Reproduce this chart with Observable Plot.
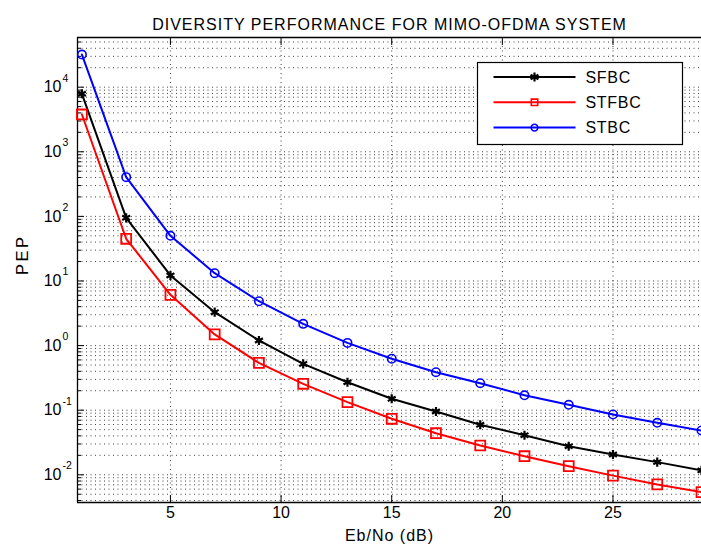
<!DOCTYPE html>
<html><head><meta charset="utf-8">
<script src="https://cdn.jsdelivr.net/npm/d3@7"></script>
<script src="https://cdn.jsdelivr.net/npm/@observablehq/plot@0.6"></script>
<style>
body{margin:0;background:#fff}
#chart{position:relative;width:701px;height:548px;overflow:hidden}
</style>
</head><body><div id="chart"></div>
<script>
const ebno = [1,3,5,7,9,11,13,15,17,19,21,23,25,27,29];
const sfbc = [7900, 95, 12.2, 3.29, 1.2, 0.52, 0.271, 0.150, 0.0955, 0.0594, 0.041, 0.0277, 0.0206, 0.0157, 0.0117];
const stfbc = [3780, 45, 6.1, 1.49, 0.54, 0.256, 0.133, 0.0736, 0.044, 0.0284, 0.0194, 0.0136, 0.0097, 0.0071, 0.0054];
const stbc = [32000, 405, 50, 13.2, 4.86, 2.17, 1.10, 0.625, 0.387, 0.262, 0.17, 0.121, 0.0857, 0.0638, 0.0485];
const seriesNames = ["SFBC","STFBC","STBC"];
const seriesColors = ["#000000","#ff0000","#0000ff"];
const xTicks = [5,10,15,20,25];
const yExponents = [-2,-1,0,1,2,3,4];
const titleText = "DIVERSITY PERFORMANCE FOR MIMO-OFDMA SYSTEM";
const xLabel = "Eb/No (dB)";
const yLabel = "PEP";

const xDomain = [0.8, 29.0];
const yDomain = [Math.pow(10,-2.429), Math.pow(10,4.769)];

const seriesValues = [sfbc, stfbc, stbc];
const rows = [];
seriesNames.forEach((s,i)=>ebno.forEach((x,j)=>rows.push({x, y: seriesValues[i][j], series: s})));

const decades = yExponents.map(e=>Math.pow(10,e));
const minor = [];
for (let e = -3; e <= 4; e++) for (let m = 2; m <= 9; m++) {
  const v = m*Math.pow(10,e);
  if (v > yDomain[0] && v < yDomain[1]) minor.push(v);
}
const font = "Liberation Sans, Arial, Helvetica, sans-serif";
const dot = {stroke:"#000", strokeWidth:1, strokeDasharray:"1,3.5", strokeOpacity:0.75};

const byS = s => rows.filter(r=>r.series===s);

const plot = Plot.plot({
  width: 701, height: 548,
  marginLeft: 77, marginRight: 0, marginTop: 37, marginBottom: 46,
  style: {fontFamily: font, fontSize: "15px", color: "#000", background: "#fff"},
  x: {domain: xDomain, axis: null},
  y: {type: "log", domain: yDomain, axis: null},
  color: {domain: seriesNames, range: seriesColors},
  marks: [
    Plot.ruleY(minor, dot),
    Plot.ruleY(decades, dot),
    Plot.ruleX(xTicks, dot),
    Plot.axisY(decades, {anchor:"left", tickSize:-7, tickFormat: ()=>"", label:null, strokeWidth:1}),
    Plot.axisY(minor, {anchor:"left", tickSize:-4, tickFormat: ()=>"", label:null, strokeWidth:1}),
    Plot.axisX(xTicks, {anchor:"bottom", tickSize:-7, tickFormat: ()=>"", label:null, strokeWidth:1}),
    Plot.axisX(xTicks, {anchor:"top", tickSize:-7, tickFormat: ()=>"", label:null, strokeWidth:1}),
    Plot.ruleX([xDomain[0]], {stroke:"#000", strokeWidth:1.3}),
    Plot.ruleY([yDomain[0], yDomain[1]], {stroke:"#000", strokeWidth:1.3}),
    Plot.line(rows, {x:"x", y:"y", z:"series", stroke:"series", strokeWidth:2}),
    Plot.dot(byS("SFBC"), {x:"x", y:"y", symbol:"asterisk", r:4.3, stroke:"#000", strokeWidth:2.2}),
    Plot.dot(byS("STFBC"), {x:"x", y:"y", symbol:"square", r:5.6, stroke:"#ff0000", strokeWidth:1.8, fill:"none"}),
    Plot.dot(byS("STBC"), {x:"x", y:"y", symbol:"circle", r:4.2, stroke:"#0000ff", strokeWidth:1.6, fill:"none"}),
    Plot.text(decades, {y: d=>d, frameAnchor:"left", text: ()=>"10", textAnchor:"end", dx:-16, fontSize:16}),
    Plot.text(decades, {y: d=>d, frameAnchor:"left", text: d=>String(Math.round(Math.log10(d))), textAnchor:"start", dx:-15, dy:-9, fontSize:10.5}),
    Plot.text(xTicks, {x: d=>d, frameAnchor:"bottom", text: d=>String(d), dy:15, fontSize:16}),
    Plot.text([xLabel], {frameAnchor:"bottom", text: d=>d, dy:38, fontSize:16}),
    Plot.text([yLabel], {frameAnchor:"left", text: d=>d, rotate:-90, dx:-55, dy:5, fontSize:16.5}),
    Plot.text([titleText], {frameAnchor:"top", text: d=>d, dy:-19, fontSize:16})
  ]
});
document.getElementById("chart").appendChild(plot);

const svg = d3.select(plot);
// wider letter spacing, as in the reference's rendering
const spacing = {[titleText]: 1, [xLabel]: 1, [yLabel]: 2.5};
svg.selectAll("text").each(function(){
  const t = this.textContent;
  if (t in spacing) d3.select(this).attr("letter-spacing", spacing[t]).style("letter-spacing", spacing[t] + "px");
});

// Legend box inside the axes (top right)
const lg = svg.append("g").attr("transform","translate(477.5,62.5)");
lg.append("rect").attr("width",205).attr("height",82).attr("fill","#fff").attr("stroke","#000").attr("stroke-width",1.2);
const symbolTypes = [d3.symbolAsterisk, d3.symbolSquare, d3.symbolCircle];
const symbolSizes = [Math.PI*4.3*4.3, Math.PI*3.6*3.6, Math.PI*3.4*3.4];
seriesNames.forEach((s,i)=>{
  const yy = 14.5 + i*25.3;
  lg.append("line").attr("x1",16).attr("x2",98).attr("y1",yy).attr("y2",yy).attr("stroke",seriesColors[i]).attr("stroke-width",2);
  lg.append("path").attr("d", d3.symbol(symbolTypes[i], symbolSizes[i])()).attr("transform",`translate(57,${yy})`)
    .attr("fill","none").attr("stroke",seriesColors[i]).attr("stroke-width",i===0?2.2:1.6);
  lg.append("text").attr("x",108).attr("y",yy).attr("dy","0.35em").attr("text-anchor","start")
    .attr("font-size",16).attr("letter-spacing",0.7).attr("font-family",font).attr("fill","#000").text(s);
});
</script>
</body></html>
